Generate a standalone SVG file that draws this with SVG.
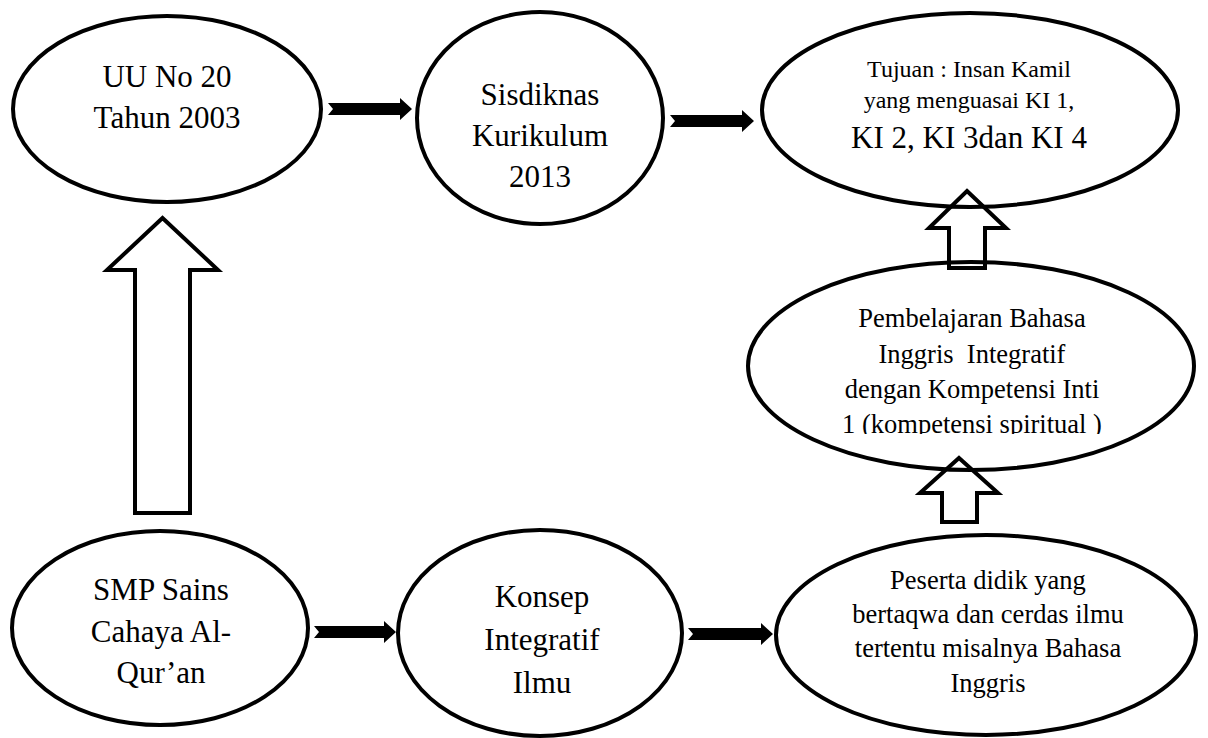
<svg xmlns="http://www.w3.org/2000/svg" width="1208" height="738" viewBox="0 0 1208 738">
<style>
.node ellipse{fill:#fff;stroke:#000;stroke-width:4}
text{font-family:"Liberation Serif","Times New Roman",serif;fill:#000;text-anchor:middle}
.big{font-size:31px}
.mid{font-size:26.5px}
.sm{font-size:24px}
.solid{fill:#000;stroke:none}
.hollow{fill:none;stroke:#000;stroke-width:4;stroke-linejoin:miter}
</style>
<defs>
<clipPath id="clipP"><rect x="740" y="250" width="468" height="184"/></clipPath>
</defs>
<rect width="1208" height="738" fill="#fff"/>
<g id="uu" class="node">
<ellipse cx="167" cy="109" rx="154" ry="93"/>
<text class="big" x="167" y="87">UU No 20</text>
<text class="big" x="167" y="128">Tahun 2003</text>
</g>
<g id="sisdiknas" class="node">
<ellipse cx="540" cy="118" rx="123" ry="106"/>
<text class="big" x="540" y="105">Sisdiknas</text>
<text class="big" x="540" y="146">Kurikulum</text>
<text class="big" x="540" y="187">2013</text>
</g>
<g id="tujuan" class="node">
<ellipse cx="970" cy="110" rx="208" ry="97"/>
<text class="sm" x="969" y="77">Tujuan : Insan Kamil</text>
<text class="sm" x="969" y="108">yang menguasai KI 1,</text>
<text class="big" x="969" y="148">KI 2, KI 3dan KI 4</text>
</g>
<g id="pembelajaran" class="node">
<ellipse cx="971" cy="366" rx="223" ry="104"/>
<text class="mid" x="972" y="327">Pembelajaran Bahasa</text>
<text class="mid" x="972" y="363" style="white-space:pre">Inggris  Integratif</text>
<text class="mid" x="972" y="398">dengan Kompetensi Inti</text>
<text class="mid" x="972" y="433" clip-path="url(#clipP)">1 (kompetensi spiritual )</text>
</g>
<g id="smp" class="node">
<ellipse cx="160" cy="628" rx="148" ry="97"/>
<text class="big" x="161" y="600">SMP Sains</text>
<text class="big" x="161" y="642">Cahaya Al-</text>
<text class="big" x="161" y="683">Qur’an</text>
</g>
<g id="konsep" class="node">
<ellipse cx="540" cy="633" rx="142" ry="103"/>
<text class="big" x="542" y="607">Konsep</text>
<text class="big" x="542" y="650">Integratif</text>
<text class="big" x="542" y="693">Ilmu</text>
</g>
<g id="peserta" class="node">
<ellipse cx="986" cy="635" rx="210" ry="100"/>
<text class="mid" x="988" y="589">Peserta didik yang</text>
<text class="mid" x="988" y="623">bertaqwa dan cerdas ilmu</text>
<text class="mid" x="988" y="657">tertentu misalnya Bahasa</text>
<text class="mid" x="988" y="692">Inggris</text>
</g>
<g id="connectors">
<path class="solid" d="M328,103 H400 V98 L412,109 L400,120 V115 H328 L333,109 Z"/>
<path class="solid" d="M670,115 H742 V110 L754,121 L742,132 V127 H670 L675,121 Z"/>
<path class="solid" d="M314,626 H384 V621 L396,632 L384,643 V638 H314 L319,632 Z"/>
<path class="solid" d="M688,628 H761 V623 L773,634 L761,645 V640 H688 L693,634 Z"/>
<path class="hollow" d="M162.5,218 L218,270 H190 V513 H135 V270 H107 Z"/>
<path class="hollow" d="M967,191 L1006,228 H985 V268 H949 V228 H929 Z"/>
<path class="hollow" d="M959,458 L998,493 H977 V522 H942 V493 H920 Z"/>
</g>
</svg>
